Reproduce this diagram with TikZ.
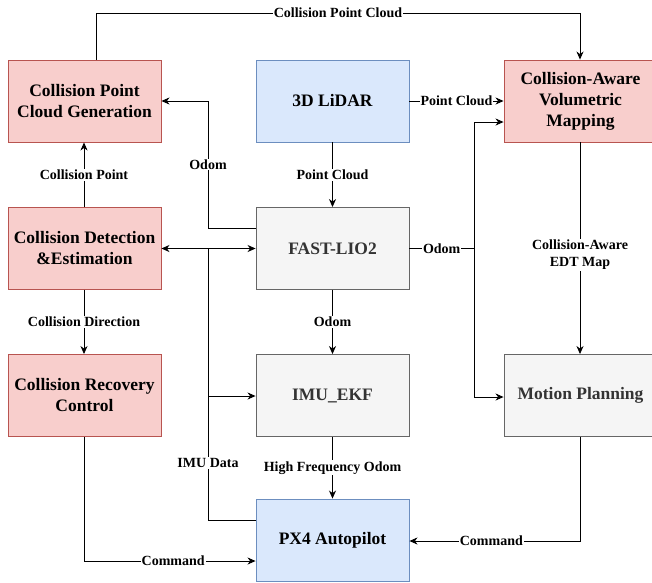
\documentclass[tikz,border=0pt]{standalone}
\usepackage{fontspec}
\setmainfont{Liberation Serif}
\usetikzlibrary{arrows.meta}
\definecolor{redfill}{HTML}{F8CECC}
\definecolor{redline}{HTML}{B85450}
\definecolor{bluefill}{HTML}{DAE8FC}
\definecolor{blueline}{HTML}{6C8EBF}
\definecolor{grayfill}{HTML}{F5F5F5}
\definecolor{grayline}{HTML}{666666}
\definecolor{graytext}{HTML}{333333}
\tikzset{
  box/.style={rectangle, minimum width=153pt, minimum height=82pt, align=center, inner sep=2pt,
    font=\fontsize{17.5}{21}\selectfont\bfseries, line width=0.9pt},
  redbox/.style={box, draw=redline, fill=redfill},
  bluebox/.style={box, draw=blueline, fill=bluefill},
  graybox/.style={box, draw=grayline, fill=grayfill, text=graytext},
  conn/.style={line width=0.9pt, -{Stealth[length=8pt,width=7pt,inset=2.5pt]}},
  line/.style={line width=0.9pt},
  lbl/.style={fill=white, inner sep=1pt, align=center, font=\fontsize{14}{17.5}\selectfont\bfseries}
}
\begin{document}
\begin{tikzpicture}[x=1pt,y=-1pt]
\useasboundingbox (0,0) rectangle (652,582);
\clip (0,0) rectangle (652,582);
\fill[white] (0,0) rectangle (652,582);
% boxes
\node[redbox] (cpcg) at (84.5,101) {Collision Point\\Cloud Generation};
\node[bluebox] (lidar) at (332.5,101) {3D LiDAR};
\node[redbox] (map) at (580.5,101) {Collision-Aware\\Volumetric\\Mapping};
\node[redbox] (cde) at (84.5,248.5) {Collision Detection\\\&Estimation};
\node[graybox] (fast) at (332.5,248.5) {FAST-LIO2};
\node[redbox] (crc) at (84.5,395.5) {Collision Recovery\\Control};
\node[graybox] (imu) at (332.5,395.5) {IMU\_EKF};
\node[graybox] (mp) at (580.5,395.5) {Motion Planning};
\node[bluebox] (px4) at (332.5,540) {PX4 Autopilot};
% coordinates
\coordinate (top1) at (96,13);
\coordinate (top2) at (580,13);
\coordinate (oj) at (474,248.5);
\coordinate (odl) at (208,228);
\coordinate (odt) at (208,101);
\coordinate (ij) at (208,248.5);
\coordinate (ib) at (208,520);
\coordinate (ik) at (208,396);
\coordinate (cb) at (84,561);
\coordinate (mb) at (580,541);
% top: collision point cloud
\draw[conn] (cpcg.north -| top1) -- (top1) -- node[lbl,pos=0.5]{Collision Point Cloud} (top2) -- (map.north -| top2);
% lidar -> map
\draw[conn] (lidar.east |- 0,101) -- node[lbl]{Point Cloud} (map.west |- 0,101);
% lidar -> fast
\draw[conn] (lidar.south) -- node[lbl]{Point Cloud} (fast.north);
% fast -> odom junction
\draw[line] (fast.east) -- node[lbl]{Odom} (oj);
\draw[conn] (oj) -- (oj |- 0,122) -- (map.west |- 0,122);
\draw[conn] (oj) -- (oj |- 0,397) -- (mp.west |- 0,397);
% fast -> cpcg odom
\draw[conn] (fast.west |- odl) -- (odl) -- node[lbl,pos=0.5]{Odom} (odt) -- (cpcg.east |- odt);
% IMU data
\draw[line] (px4.west |- ib) -- (ib) -- node[lbl,pos=0.21]{IMU Data} (ij);
\draw[conn] (ij) -- (cde.east);
\draw[conn] (ij) -- (fast.west);
\draw[conn] (ik) -- (imu.west |- ik);
% cde -> cpcg
\draw[conn] (cde.north -| 84,0) -- node[lbl]{Collision Point} (cpcg.south -| 84,0);
% cde -> crc
\draw[conn] (cde.south -| 84,0) -- node[lbl]{Collision Direction} (crc.north -| 84,0);
% fast -> imu
\draw[conn] (fast.south) -- node[lbl]{Odom} (imu.north);
% imu -> px4
\draw[conn] (imu.south) -- node[lbl]{High Frequency Odom} (px4.north);
% crc -> px4
\draw[conn] (crc.south -| cb) -- (cb) -- node[lbl,pos=0.52]{Command} (px4.west |- cb);
% mp -> px4
\draw[conn] (mp.south -| mb) -- (mb) -- node[lbl,pos=0.52]{Command} (px4.east |- mb);
% map -> mp
\draw[conn] (map.south -| 580,0) -- node[lbl,pos=0.53]{Collision-Aware\\EDT Map} (mp.north -| 580,0);
\end{tikzpicture}
\end{document}
